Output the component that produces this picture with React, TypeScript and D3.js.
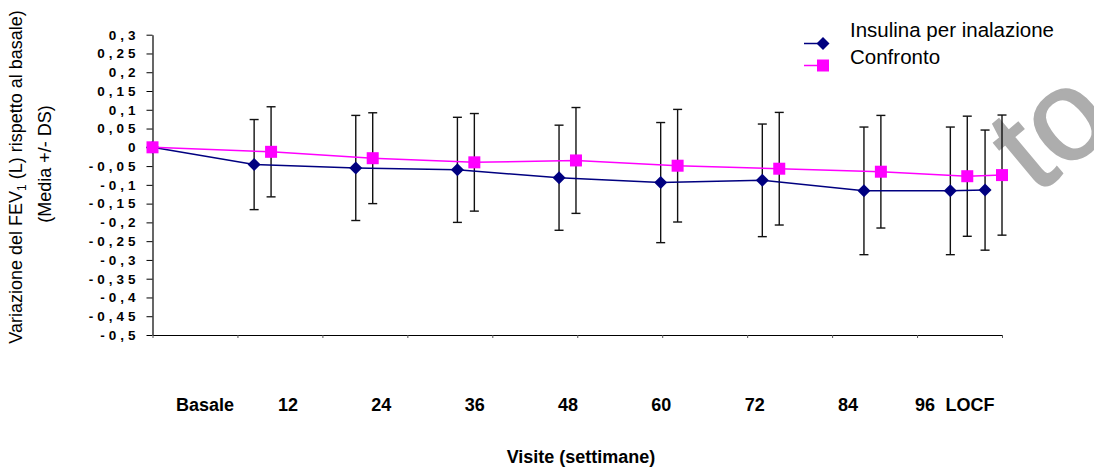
import React, { useEffect, useRef } from "react";
import * as d3 from "d3";

// visit positions (weeks) and values
const insulinX = [0, 12, 24, 36, 48, 60, 72, 84, 94.2, 98.3];
const insulinMean = [0, -0.046, -0.055, -0.06, -0.081, -0.094, -0.088, -0.116, -0.116, -0.114];
const insulinSD = [0, 0.12, 0.14, 0.14, 0.14, 0.16, 0.15, 0.17, 0.17, 0.16];

const confrontoX = [0, 14, 26, 38, 50, 62, 74, 86, 96.2, 100.3];
const confrontoMean = [0, -0.012, -0.029, -0.04, -0.035, -0.049, -0.057, -0.065, -0.077, -0.074];
const confrontoSD = [0, 0.12, 0.121, 0.13, 0.141, 0.15, 0.15, 0.15, 0.16, 0.16];

const visitLabels = ["Basale", "12", "24", "36", "48", "60", "72", "84", "96", "LOCF"];
const yTicks = [0.3, 0.25, 0.2, 0.15, 0.1, 0.05, 0, -0.05, -0.1, -0.15, -0.2, -0.25, -0.3, -0.35, -0.4, -0.45, -0.5];
const seriesNames = ["Insulina per inalazione", "Confronto"];

const FONT = "Arial, 'Liberation Sans', Helvetica, sans-serif";
const NAVY = "#000080";
const PINK = "#FF00FF";

const App = () => {
  const ref = useRef<SVGSVGElement>(null);

  useEffect(() => {
    const svg = d3.select(ref.current);
    svg.selectAll("*").remove();

    const xMax = d3.max(confrontoX) as number;
    const x = d3.scaleLinear().domain([0, xMax]).range([152.5, 1002]);
    const y = d3.scaleLinear().domain([-0.5, 0.3]).range([335, 34.7]);

    const loc = d3.formatLocale({
      decimal: ",",
      thousands: ".",
      grouping: [3],
      currency: ["", ""],
      minus: "-",
    });
    const fmt = loc.format(".2~f");

    // watermark peeking at the right edge
    svg
      .append("text")
      .attr("transform", "translate(1036,196) rotate(-40)")
      .attr("font-family", FONT)
      .attr("font-size", 128)
      .attr("fill", "#adadad")
      .attr("stroke", "#adadad")
      .attr("stroke-width", 2)
      .text("to");

    // y axis
    const gy = svg
      .append("g")
      .attr("transform", "translate(152.5,0)")
      .call(d3.axisLeft(y).tickValues(yTicks).tickSize(6).tickSizeOuter(0).tickFormat((d) => fmt(d as number)));
    gy.select(".domain").attr("stroke", "#000").attr("stroke-width", 1.2);
    gy.selectAll(".tick line").attr("stroke", "#000");
    gy.selectAll(".tick text")
      .attr("x", -13)
      .attr("font-family", FONT)
      .attr("font-size", 13.5)
      .attr("font-weight", "bold")
      .attr("letter-spacing", 4)
      .attr("fill", "#000");

    // x axis (10 equal divisions, no labels)
    const xTickVals = d3.range(11).map((i) => (xMax * i) / 10);
    const gx = svg
      .append("g")
      .attr("transform", "translate(0,335)")
      .call(d3.axisBottom(x).tickValues(xTickVals).tickSize(3).tickSizeOuter(0).tickFormat(() => ""));
    gx.select(".domain").attr("stroke", "#000").attr("stroke-width", 1.2);
    gx.selectAll(".tick line").attr("stroke", "#555");

    // visit labels
    const labelX = d3.scaleLinear().domain([0, 1, 7, 8, 9]).range([205, 288, 848, 925, 970]);
    svg
      .append("g")
      .selectAll("text")
      .data(visitLabels)
      .join("text")
      .attr("x", (d, i) => labelX(i))
      .attr("y", 411)
      .attr("text-anchor", "middle")
      .attr("font-family", FONT)
      .attr("font-size", 18)
      .attr("font-weight", "bold")
      .text((d) => d);

    svg
      .append("text")
      .attr("x", 581)
      .attr("y", 463)
      .attr("text-anchor", "middle")
      .attr("font-family", FONT)
      .attr("font-size", 18)
      .attr("font-weight", "bold")
      .text("Visite (settimane)");

    // y title
    const t1 = svg
      .append("text")
      .attr("transform", "translate(22,177) rotate(-90)")
      .attr("text-anchor", "middle")
      .attr("font-family", FONT)
      .attr("font-size", 18);
    t1.append("tspan").text("Variazione del FEV");
    t1.append("tspan").attr("font-size", 12).attr("dy", 4).text("1");
    t1.append("tspan").attr("dy", -4).text(" (L) rispetto al basale)");
    svg
      .append("text")
      .attr("transform", "translate(51,164) rotate(-90)")
      .attr("text-anchor", "middle")
      .attr("font-family", FONT)
      .attr("font-size", 18)
      .text("(Media +/- DS)");

    const diamond = "M0,-6.5L6.5,0L0,6.5L-6.5,0Z";

    const series = [
      { xs: insulinX, mean: insulinMean, sd: insulinSD, color: NAVY, shape: "diamond" },
      { xs: confrontoX, mean: confrontoMean, sd: confrontoSD, color: PINK, shape: "square" },
    ];

    // error bars
    series.forEach((s) => {
      const g = svg.append("g").attr("stroke", "#111").attr("stroke-width", 1.4);
      s.xs.forEach((xv, i) => {
        if (!s.sd[i]) return;
        const cx = x(xv);
        const top = y(s.mean[i] + s.sd[i]);
        const bot = y(s.mean[i] - s.sd[i]);
        g.append("line").attr("x1", cx).attr("x2", cx).attr("y1", top).attr("y2", bot);
        g.append("line").attr("x1", cx - 4.5).attr("x2", cx + 4.5).attr("y1", top).attr("y2", top);
        g.append("line").attr("x1", cx - 4.5).attr("x2", cx + 4.5).attr("y1", bot).attr("y2", bot);
      });
    });

    // lines and markers
    series.forEach((s) => {
      const pts = s.xs.map((xv, i) => [x(xv), y(s.mean[i])] as [number, number]);
      svg
        .append("path")
        .attr("d", d3.line()(pts))
        .attr("fill", "none")
        .attr("stroke", s.color)
        .attr("stroke-width", 1.5);
      const g = svg.append("g").attr("fill", s.color);
      pts.forEach(([px, py]) => {
        if (s.shape === "diamond") {
          g.append("path").attr("d", diamond).attr("transform", `translate(${px},${py})`);
        } else {
          g.append("rect").attr("x", px - 6).attr("y", py - 6).attr("width", 12).attr("height", 12);
        }
      });
    });

    // legend
    const legY = [43.5, 65.5];
    const legTextY = [37, 64];
    series.forEach((s, i) => {
      svg
        .append("line")
        .attr("x1", 804)
        .attr("x2", 823)
        .attr("y1", legY[i])
        .attr("y2", legY[i])
        .attr("stroke", s.color)
        .attr("stroke-width", 1.5);
      if (s.shape === "diamond") {
        svg.append("path").attr("d", diamond).attr("fill", s.color).attr("transform", `translate(823,${legY[i]})`);
      } else {
        svg.append("rect").attr("x", 817).attr("y", legY[i] - 6).attr("width", 12).attr("height", 12).attr("fill", s.color);
      }
      svg
        .append("text")
        .attr("x", 850)
        .attr("y", legTextY[i])
        .attr("font-family", FONT)
        .attr("font-size", 20.5)
        .attr("fill", "#000")
        .text(seriesNames[i]);
    });
  }, []);

  return (
    <div style={{ position: "absolute", left: 0, top: 0 }}>
      <svg ref={ref} width={1094} height={468} style={{ display: "block", background: "#fff" }}></svg>
    </div>
  );
};

export default App;
